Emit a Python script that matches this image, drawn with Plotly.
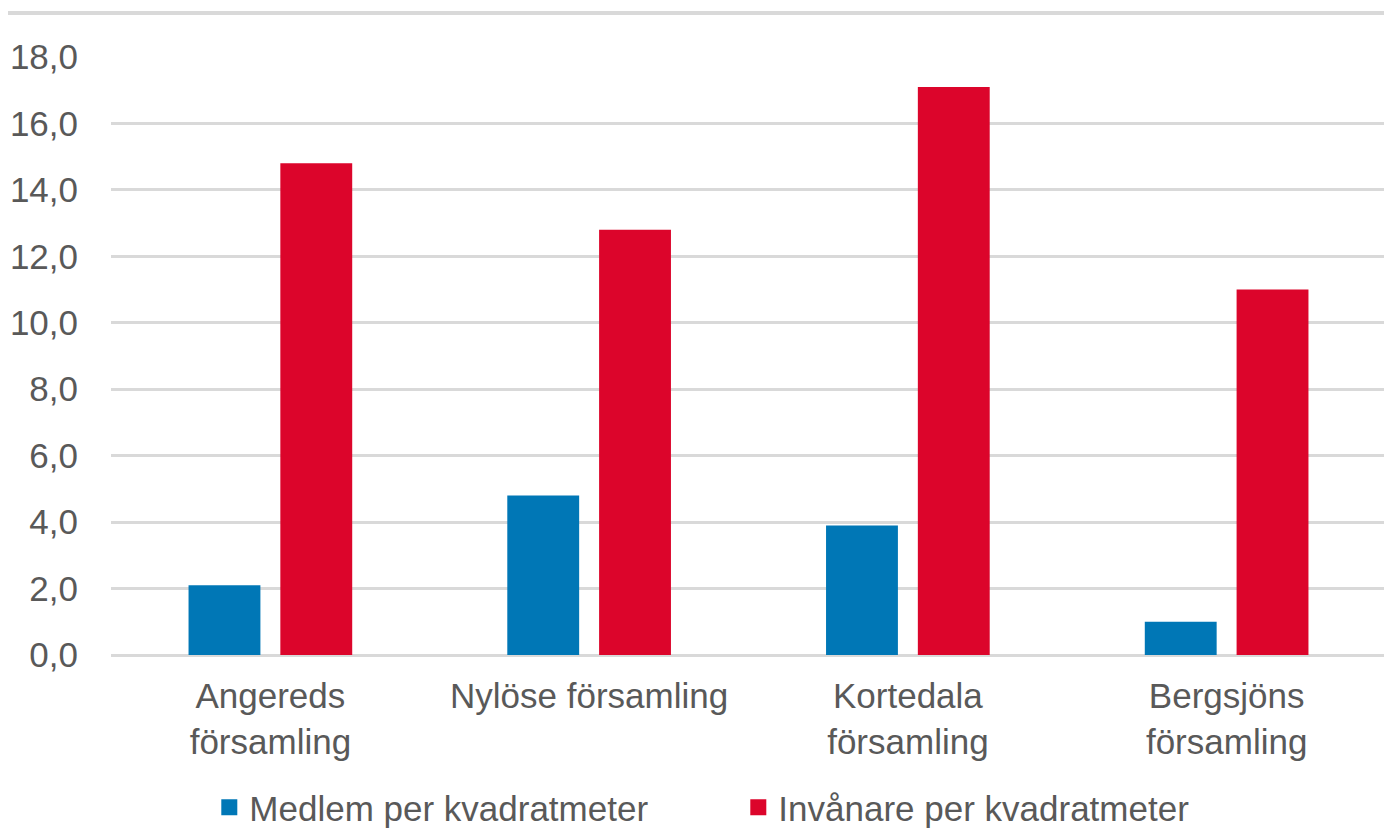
import plotly.graph_objects as go

categories = ["Angereds<br>församling", "Nylöse församling", "Kortedala<br>församling", "Bergsjöns<br>församling"]
medlem = [2.1, 4.8, 3.9, 1.0]
invanare = [14.8, 12.8, 17.1, 11.0]
tick_vals = [0, 2, 4, 6, 8, 10, 12, 14, 16, 18]
series_names = ["Medlem per kvadratmeter", "Invånare per kvadratmeter"]
series_colors = ["#0077b6", "#dc052b"]

FONT = "Liberation Sans, Arial, sans-serif"
TXT = "#595959"
GRID = "#d9d9d9"
FS = 35

fig = go.Figure()
for name, vals, col in zip(series_names, [medlem, invanare], series_colors):
    fig.add_trace(go.Bar(name=name, x=categories, y=vals, showlegend=False,
                         marker=dict(color=col, line=dict(width=0))))
# legend entries with larger square symbols
for name, col in zip(series_names, series_colors):
    fig.add_trace(go.Scatter(name=name, x=[None], y=[None], mode="markers",
                             marker=dict(symbol="square", size=17, color=col),
                             showlegend=True, hoverinfo="skip"))

fig.update_layout(
    width=1384, height=824,
    margin=dict(l=103, r=6, t=49, b=177, autoexpand=False),
    paper_bgcolor="white", plot_bgcolor="white",
    separators=", ",
    font=dict(family=FONT, size=FS, color=TXT),
    barmode="group", bargap=0.424, bargroupgap=0.217,
    showlegend=True,
    legend=dict(orientation="h", x=0.492, xanchor="center", y=-0.255, yanchor="middle",
                font=dict(size=FS, color=TXT), traceorder="normal",
                itemwidth=30, entrywidth=484),
    xaxis=dict(showgrid=False, showline=False, ticks="", ticklabelstandoff=17,
               tickfont=dict(size=FS, color=TXT)),
    yaxis=dict(range=[0, 18], tickvals=tick_vals, tickformat=".1f",
               showgrid=True, gridcolor=GRID, gridwidth=3,
               zeroline=True, zerolinecolor=GRID, zerolinewidth=3,
               showline=False, ticks="", ticklabelstandoff=32,
               tickfont=dict(size=FS, color=TXT)),
    shapes=[dict(type="line", xref="paper", yref="paper", x0=-0.081, x1=1.01,
                 y0=(655 - 13) / 598, y1=(655 - 13) / 598,
                 line=dict(color=GRID, width=4))],
)

fig.write_html("out.html")
